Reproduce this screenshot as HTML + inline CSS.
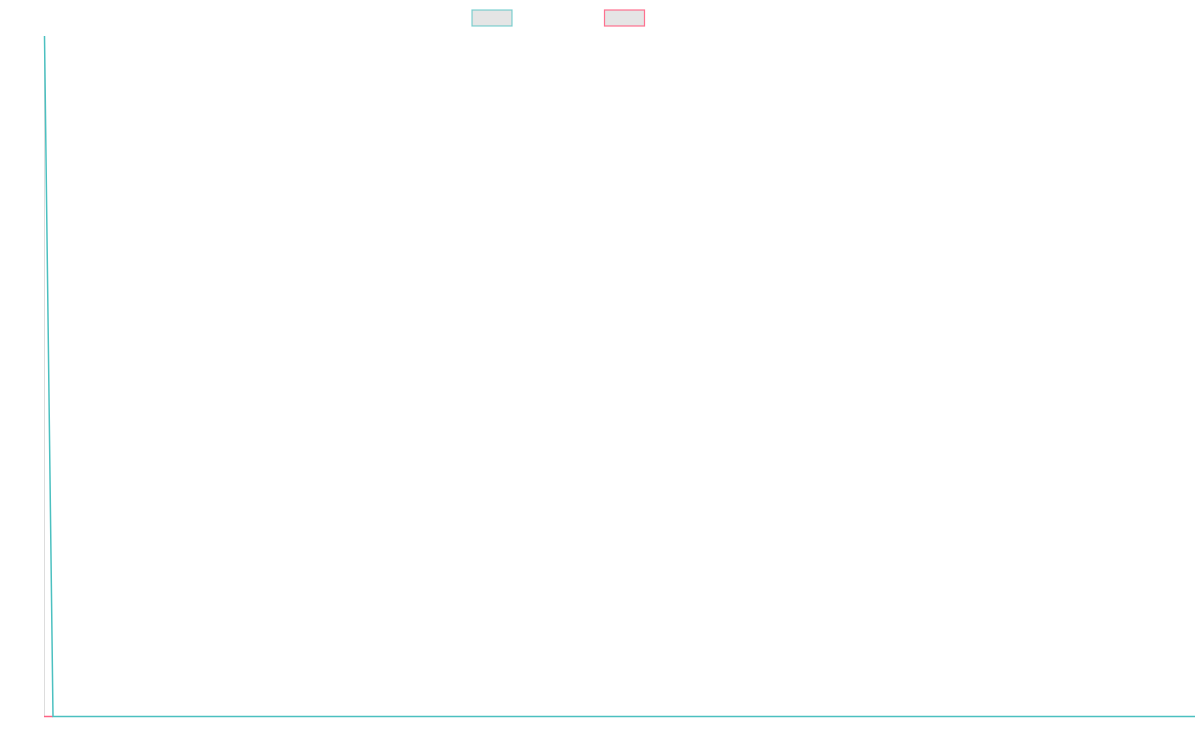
<!DOCTYPE html>
<html><head><style>html,body{margin:0;padding:0;background:#fff;width:1200px;height:750px;overflow:hidden}</style></head>
<body>
<svg width="1200" height="750" xmlns="http://www.w3.org/2000/svg">
<rect x="472" y="10" width="40" height="16" fill="#e5e5e5" stroke="#4bc0c0" stroke-opacity="0.7" stroke-width="1.2"/>
<rect x="604.5" y="10" width="40" height="16" fill="#e5e5e5" stroke="#ff6384" stroke-opacity="0.9" stroke-width="1.2"/>
<line x1="44.5" y1="36" x2="44.5" y2="716" stroke="#ddd" stroke-width="1"/>
<polyline points="44,716.5 53,716.5" fill="none" stroke="#ff6384" stroke-width="1.5"/>
<polyline points="44.5,36 53,716.5 1195,716.5" fill="none" stroke="#4bc0c0" stroke-width="1.5"/>
</svg>
</body></html>
